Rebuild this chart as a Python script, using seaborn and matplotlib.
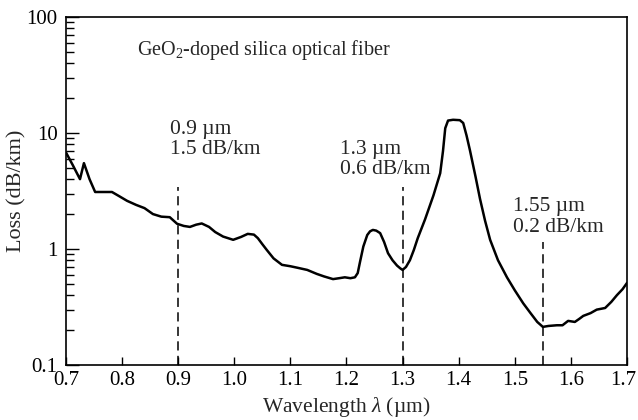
import matplotlib
matplotlib.use('Agg')
import matplotlib.pyplot as plt
import matplotlib.ticker as mticker
import matplotlib.transforms as mtransforms
import seaborn as sns

# loss spectrum (wavelength in um, loss in dB/km)
wavelength = [0.700, 0.712, 0.725, 0.732, 0.742, 0.752, 0.765, 0.782, 0.795, 0.809,
              0.825, 0.840, 0.855, 0.870, 0.885, 0.898, 0.910, 0.921, 0.932, 0.942,
              0.955, 0.966, 0.980, 0.998, 1.012, 1.024, 1.035, 1.042, 1.050, 1.058,
              1.070, 1.085, 1.100, 1.112, 1.130, 1.147, 1.160, 1.176, 1.187, 1.197,
              1.207, 1.215, 1.220, 1.224, 1.230, 1.237, 1.242, 1.247, 1.253, 1.260,
              1.267, 1.274, 1.282, 1.290, 1.296, 1.300, 1.306, 1.313, 1.320, 1.327,
              1.340, 1.355, 1.367, 1.372, 1.376, 1.381, 1.390, 1.402, 1.408, 1.414,
              1.420, 1.430, 1.438, 1.447, 1.456, 1.470, 1.486, 1.500, 1.515, 1.528,
              1.540, 1.550, 1.560, 1.575, 1.585, 1.595, 1.607, 1.615, 1.622, 1.635,
              1.646, 1.661, 1.672, 1.682, 1.692, 1.700]
loss = [6.8, 5.3, 4.0, 5.5, 4.0, 3.1, 3.1, 3.1, 2.85, 2.6,
        2.4, 2.25, 2.0, 1.9, 1.88, 1.65, 1.58, 1.55, 1.62, 1.66,
        1.55, 1.40, 1.28, 1.20, 1.27, 1.35, 1.33, 1.24, 1.10, 0.98,
        0.83, 0.73, 0.71, 0.69, 0.66, 0.61, 0.58, 0.55, 0.56, 0.57,
        0.56, 0.57, 0.62, 0.77, 1.05, 1.32, 1.42, 1.46, 1.44, 1.37,
        1.15, 0.92, 0.80, 0.72, 0.68, 0.66, 0.70, 0.80, 0.98, 1.24,
        1.8, 2.9, 4.5, 7.0, 11.0, 12.8, 13.0, 12.9, 12.2, 9.5,
        7.1, 4.2, 2.7, 1.75, 1.20, 0.80, 0.57, 0.44, 0.34, 0.28,
        0.235, 0.213, 0.217, 0.22, 0.22, 0.24, 0.235, 0.25, 0.265, 0.28,
        0.30, 0.31, 0.35, 0.40, 0.45, 0.51]

# low-loss windows marked with dashed lines
window_wl = [0.9, 1.3, 1.55]
window_top = [3.4, 3.4, 1.15]
window_text = ['0.9 \u00b5m\n1.5 dB/km', '1.3 \u00b5m\n0.6 dB/km', '1.55 \u00b5m\n0.2 dB/km']
text_x = [0.885, 1.188, 1.497]
text_y = [13.0, 8.7, 2.8]

x_ticks = [0.7, 0.8, 0.9, 1.0, 1.1, 1.2, 1.3, 1.4, 1.5, 1.6, 1.7]
y_ticks = [0.1, 1, 10, 100]
y_tick_labels = ['0.1', '1', '10', '100']

sns.set_style('ticks')
plt.rcParams['font.family'] = ['Liberation Serif', 'DejaVu Serif']
plt.rcParams['mathtext.fontset'] = 'custom'
plt.rcParams['mathtext.rm'] = 'Liberation Serif'
plt.rcParams['mathtext.it'] = 'Liberation Serif:italic'

fig = plt.figure(figsize=(6.38, 4.2), dpi=100)
ax = fig.add_axes([0.1034, 0.131, 0.8794, 0.8285])

sns.lineplot(x=wavelength, y=loss, sort=False, estimator=None, color='black',
             linewidth=1.8, ax=ax)
ax.vlines(window_wl, 0.1, window_top, colors='black', linewidth=1.1,
          linestyles=(0, (6, 3.5)))

for tx, ty, s in zip(text_x, text_y, window_text):
    ax.text(tx, ty, s, fontsize=15.5, va='top', ha='left', linespacing=1.1)
ax.text(0.827, 47, r'GeO$_\mathregular{2}$-doped silica optical fiber', fontsize=14.5,
        va='baseline', ha='left')

ax.set_yscale('log')
ax.set_xlim(0.7, 1.7)
ax.set_ylim(0.1, 100)
ax.set_xticks(x_ticks)
ax.set_xticklabels([f'{t:.1f}' for t in x_ticks])
ax.set_yticks(y_ticks)
ax.set_yticklabels(y_tick_labels)
ax.yaxis.set_minor_locator(mticker.LogLocator(base=10, subs=range(2, 10)))
ax.yaxis.set_minor_formatter(mticker.NullFormatter())

ax.tick_params(axis='both', which='both', direction='in', labelsize=15,
               colors='black', width=1)
ax.tick_params(axis='y', which='major', length=9.5, pad=6)
ax.tick_params(axis='y', which='minor', length=5.5)
ax.tick_params(axis='x', which='major', length=6, pad=4)

# keep the last x label inside the canvas
last = ax.get_xticklabels()[-1]
last.set_transform(last.get_transform() +
                   mtransforms.ScaledTranslation(-3 / 72, 0, fig.dpi_scale_trans))

for sp in ax.spines.values():
    sp.set_visible(True)
    sp.set_linewidth(1.2)
    sp.set_color('black')

ax.set_xlabel('Wavelength $\\lambda$ (\u00b5m)', fontsize=15.5, labelpad=4)
ax.set_ylabel('Loss (dB/km)', fontsize=16, labelpad=0)

fig.savefig('out.png', dpi=100)
